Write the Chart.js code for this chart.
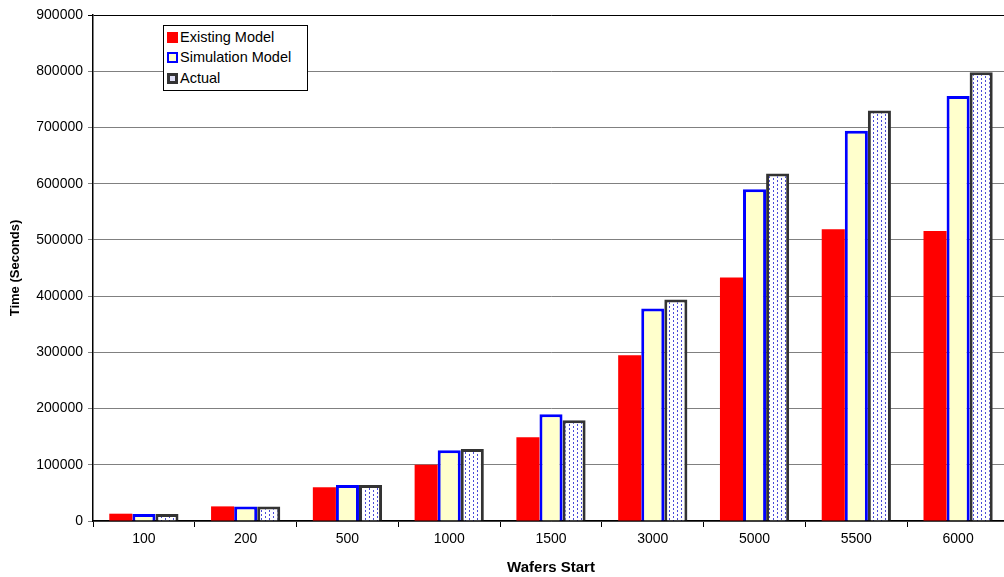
<!DOCTYPE html>
<html>
<head>
<meta charset="utf-8">
<script src="https://cdn.jsdelivr.net/npm/chart.js@4/dist/chart.umd.min.js"></script>
<style>
  html, body { margin: 0; padding: 0; background: #fff; overflow: hidden; }
  #wrap { position: relative; width: 1010px; height: 577px; }
  #legend {
    position: absolute; left: 163px; top: 25px; width: 143px; height: 64px;
    border: 1px solid #000; background: #fff;
    font-family: "Liberation Sans", Arial, sans-serif; font-size: 14.5px; color: #000;
  }
  #legend .row { position: absolute; left: 3px; height: 20px; line-height: 20px; white-space: nowrap; }
  #legend .sw { display: inline-block; width: 11px; height: 11px; box-sizing: border-box; vertical-align: -1px; margin-right: 2px; }
</style>
</head>
<body>
<div id="wrap">
  <canvas id="chart" width="1010" height="577"></canvas>
  <div id="legend"></div>
</div>
<script>
// ===== DATA =====
const categories = ['100', '200', '500', '1000', '1500', '3000', '5000', '5500', '6000'];
const existingModel = [13000, 26000, 60000, 100000, 149000, 295000, 433000, 519000, 516000];
const simulationModel = [12500, 26000, 64000, 126000, 190000, 378000, 590000, 694000, 756000];
const actual = [12500, 26000, 64000, 128000, 179000, 394000, 618000, 730000, 798000];
const seriesNames = ['Existing Model', 'Simulation Model', 'Actual'];
const yMax = 900000;
const yStep = 100000;

// ===== ТОЧЕЧНАЯ ЗАЛИВКА =====
function dotPattern() {
    const c = document.createElement('canvas');
    c.width = 8; c.height = 4;
    const g = c.getContext('2d');
    g.fillStyle = '#ffffff';
    g.fillRect(0, 0, 8, 4);
    g.fillStyle = '#4a4ad8';
    g.fillRect(1, 0, 1, 2);
    g.fillRect(5, 2, 1, 2);
    return g.createPattern(c, 'repeat');
}

const font = { family: '"Liberation Sans", Arial, sans-serif', size: 14 };

const ctx = document.getElementById('chart').getContext('2d');
const chart = new Chart(ctx, {
    type: 'bar',
    data: {
        labels: categories,
        datasets: [
            {
                label: seriesNames[0],
                data: existingModel,
                backgroundColor: '#ff0000',
                borderWidth: 0
            },
            {
                label: seriesNames[1],
                data: simulationModel,
                backgroundColor: '#ffffcc',
                borderColor: '#0000ff',
                borderWidth: 3
            },
            {
                label: seriesNames[2],
                data: actual,
                backgroundColor: dotPattern(),
                borderColor: '#333333',
                borderWidth: 3
            }
        ]
    },
    options: {
        responsive: false,
        animation: false,
        layout: { padding: { top: 15, right: 1, left: 8, bottom: 0 } },
        plugins: {
            legend: { display: false },
            tooltip: { enabled: false }
        },
        datasets: {
            bar: { barPercentage: 1.0, categoryPercentage: 0.68 }
        },
        scales: {
            x: {
                offset: true,
                grid: {
                    offset: true,
                    drawOnChartArea: false,
                    color: '#000',
                    tickLength: 6
                },
                border: { color: '#000', width: 1.5 },
                ticks: { color: '#000', font: font, padding: 4 },
                title: {
                    display: true,
                    text: 'Wafers Start',
                    color: '#000',
                    font: { family: font.family, size: 15, weight: 'bold' },
                    padding: { top: 4, bottom: 0 }
                },
                afterFit: s => { s.height = 56; }
            },
            y: {
                min: 0,
                max: yMax,
                grid: {
                    color: c => c.tick && c.tick.value === yMax ? '#000' : '#808080',
                    tickLength: 5
                },
                border: { color: '#000', width: 1.5 },
                ticks: {
                    stepSize: yStep,
                    color: '#000',
                    font: font,
                    padding: 5,
                    callback: v => String(v)
                },
                title: {
                    display: true,
                    text: 'Time (Seconds)',
                    color: '#000',
                    font: { family: font.family, size: 13, weight: 'bold' },
                    padding: { top: 0, bottom: 2 }
                },
                afterFit: s => { s.width = 85; }
            }
        }
    }
});

// ===== ЛЕГЕНДА =====
const legendEl = document.getElementById('legend');
const rowTops = [1, 21, 42];
const swatchCss = [
    'background:#ff0000;',
    'background:#ffffcc;border:2.5px solid #0000ff;',
    'background:#ddddf5;border:3px solid #333;'
];
legendEl.innerHTML = seriesNames.map((name, i) =>
    `<div class="row" style="top:${rowTops[i]}px"><span class="sw" style="${swatchCss[i]}"></span>${name}</div>`
).join('');
</script>
</body>
</html>
